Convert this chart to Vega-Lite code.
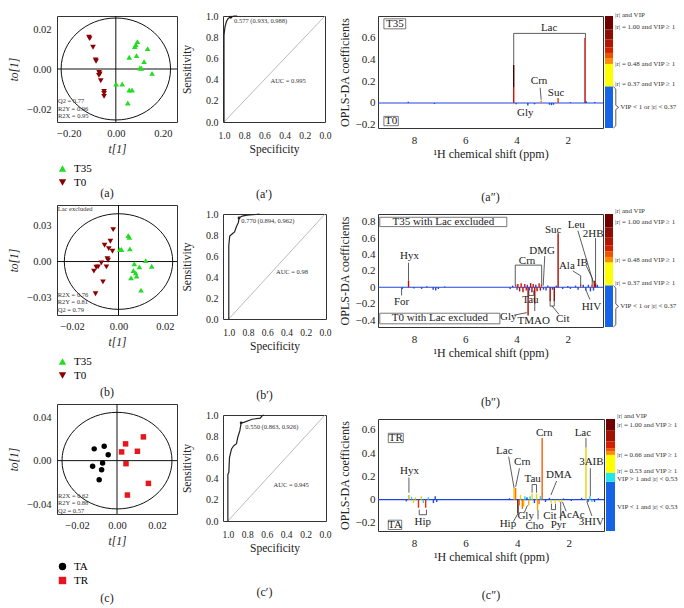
{
"$schema": "https://vega.github.io/schema/vega-lite/v6.json",
"padding": {"left": 7, "top": 10, "right": 0, "bottom": 0},
"config": {
  "font": "Liberation Serif",
  "view": {"stroke": "#333", "strokeWidth": 1},
  "axis": {"grid": false, "domain": false, "ticks": false, "labelOverlap": false, "labelFlush": false, "tickCount": 12, "labelFontSize": 10.5, "titleFontSize": 11.5, "titleFontWeight": "normal", "labelColor": "#222", "titleColor": "#222", "labelFont": "Liberation Serif", "titleFont": "Liberation Serif"},
  "title": {"fontSize": 12, "fontWeight": "normal", "font": "Liberation Serif", "color": "#222"},
  "legend": {"labelFontSize": 11, "labelFont": "Liberation Serif", "symbolSize": 55, "rowPadding": 2, "offset": 8, "padding": 0, "labelOffset": 6, "symbolStrokeWidth": 0},
  "text": {"font": "Liberation Serif"}
},
"spacing": 2,
"resolve": {"scale": {"color": "independent", "shape": "independent"}, "legend": {"color": "independent", "shape": "independent"}},
"hconcat": [
{
  "spacing": 4,
  "resolve": {"scale": {"color": "independent", "shape": "independent"}, "legend": {"color": "independent", "shape": "independent"}},
  "vconcat": [
  {
    "width": 120, "height": 106,
    "title": {"text": "(a)", "orient": "bottom", "anchor": "middle", "frame": "group", "dx": -10, "offset": 0},
    "layer": [
      {"data": {"values": [{}]}, "mark": {"type": "rule", "color": "#111", "strokeWidth": 1}, "encoding": {"x": {"datum": 0, "type": "quantitative"}}},
      {"data": {"values": [{}]}, "mark": {"type": "rule", "color": "#111", "strokeWidth": 1}, "encoding": {"y": {"datum": 0, "type": "quantitative"}}},
      {"data": {"values": [{}]}, "mark": {"type": "point", "shape": "M-1,0C-1,-0.5148,-0.5523,-0.932,0,-0.932C0.5523,-0.932,1,-0.5148,1,0C1,0.5148,0.5523,0.932,0,0.932C-0.5523,0.932,-1,0.5148,-1,0Z", "size": 11968, "filled": false, "color": "#111", "strokeWidth": 1, "opacity": 1}, "encoding": {"x": {"datum": 0, "type": "quantitative"}, "y": {"datum": 0, "type": "quantitative"}}},
      {"data": {"values": [
        {"t1": 0.092, "to1": 0.0137, "g": "T35"}, {"t1": 0.085, "to1": 0.0122, "g": "T35"}, {"t1": 0.081, "to1": 0.0112, "g": "T35"}, {"t1": 0.135, "to1": 0.0102, "g": "T35"}, {"t1": 0.088, "to1": 0.0067, "g": "T35"}, {"t1": 0.057, "to1": 0.0059, "g": "T35"}, {"t1": 0.120, "to1": 0.0037, "g": "T35"}, {"t1": 0.102, "to1": 0.0005, "g": "T35"}, {"t1": 0.109, "to1": 0.0004, "g": "T35"}, {"t1": 0.154, "to1": -0.0022, "g": "T35"}, {"t1": 0.001, "to1": -0.0075, "g": "T35"}, {"t1": 0.027, "to1": -0.0075, "g": "T35"}, {"t1": 0.057, "to1": -0.0105, "g": "T35"}, {"t1": 0.069, "to1": -0.0105, "g": "T35"}, {"t1": 0.051, "to1": -0.017, "g": "T35"},
        {"t1": -0.114, "to1": 0.0159, "g": "T0"}, {"t1": -0.111, "to1": 0.0152, "g": "T0"}, {"t1": -0.097, "to1": 0.0109, "g": "T0"}, {"t1": -0.086, "to1": 0.0045, "g": "T0"}, {"t1": -0.084, "to1": 0.0039, "g": "T0"}, {"t1": -0.071, "to1": -0.0017, "g": "T0"}, {"t1": -0.068, "to1": -0.0025, "g": "T0"}, {"t1": -0.072, "to1": -0.0032, "g": "T0"}, {"t1": -0.064, "to1": -0.0059, "g": "T0"}, {"t1": -0.05, "to1": -0.0112, "g": "T0"}, {"t1": -0.05, "to1": -0.0122, "g": "T0"}, {"t1": -0.05, "to1": -0.0137, "g": "T0"}
      ]},
       "mark": {"type": "point", "filled": true, "size": 32, "opacity": 1},
       "encoding": {
         "x": {"field": "t1", "type": "quantitative", "scale": {"domain": [-0.25, 0.26], "nice": false, "zero": false}, "axis": {"values": [-0.2, 0, 0.2], "tickCount": 12, "format": ".2f", "title": "t[1]", "labelOverlap": false, "labelFlush": false, "labelPadding": 6, "titlePadding": 5, "titleFontStyle": "italic"}},
         "y": {"field": "to1", "type": "quantitative", "scale": {"domain": [-0.0265, 0.0265], "nice": false, "zero": false}, "axis": {"values": [-0.02, 0, 0.02], "tickCount": 12, "format": ".2f", "title": "to[1]", "labelOverlap": false, "labelPadding": 6, "minExtent": 28, "maxExtent": 28, "titlePadding": 10, "titleFontStyle": "italic"}},
         "color": {"field": "g", "type": "nominal", "scale": {"domain": ["T35", "T0"], "range": ["#22dd22", "#8b0000"]}, "legend": {"orient": "bottom", "direction": "vertical", "title": null}},
         "shape": {"field": "g", "type": "nominal", "scale": {"domain": ["T35", "T0"], "range": ["triangle-up", "triangle-down"]}, "legend": {"orient": "bottom", "direction": "vertical", "title": null}}
       }},
      {"data": {"values": [{"x": -0.246, "y": -0.0145}]}, "mark": {"type": "text", "align": "left", "baseline": "top", "fontSize": 6.5, "lineHeight": 7.5, "text": ["Q2 = 0.77", "R2Y = 0.96", "R2X = 0.95"], "color": "#333"}, "encoding": {"x": {"field": "x", "type": "quantitative"}, "y": {"field": "y", "type": "quantitative"}}}
    ]
  },
  {
    "width": 120, "height": 110,
    "title": {"text": "(b)", "orient": "bottom", "anchor": "middle", "frame": "group", "dx": -10, "offset": 6},
    "layer": [
      {"data": {"values": [{}]}, "mark": {"type": "rule", "color": "#111", "strokeWidth": 1}, "encoding": {"x": {"datum": 0, "type": "quantitative"}}},
      {"data": {"values": [{}]}, "mark": {"type": "rule", "color": "#111", "strokeWidth": 1}, "encoding": {"y": {"datum": 0, "type": "quantitative"}}},
      {"data": {"values": [{}]}, "mark": {"type": "point", "shape": "M-1,0C-1,-0.4871,-0.5523,-0.882,0,-0.882C0.5523,-0.882,1,-0.4871,1,0C1,0.4871,0.5523,0.882,0,0.882C-0.5523,0.882,-1,0.4871,-1,0Z", "size": 11751, "filled": false, "color": "#111", "strokeWidth": 1, "opacity": 1}, "encoding": {"x": {"datum": 0, "type": "quantitative"}, "y": {"datum": 0, "type": "quantitative"}}},
      {"data": {"values": [
        {"t1": 0.0042, "to1": 0.0218, "g": "T35"}, {"t1": 0.0047, "to1": 0.0204, "g": "T35"}, {"t1": 0.0006, "to1": 0.0101, "g": "T35"}, {"t1": 0.0013, "to1": 0.0101, "g": "T35"}, {"t1": 0.0049, "to1": 0.0107, "g": "T35"}, {"t1": 0.0117, "to1": 0.0008, "g": "T35"}, {"t1": 0.0068, "to1": -0.0019, "g": "T35"}, {"t1": 0.0143, "to1": -0.0039, "g": "T35"}, {"t1": 0.009, "to1": -0.0045, "g": "T35"}, {"t1": 0.0064, "to1": -0.0076, "g": "T35"}, {"t1": 0.0074, "to1": -0.0095, "g": "T35"}, {"t1": 0.0078, "to1": -0.0123, "g": "T35"}, {"t1": 0.0054, "to1": -0.0137, "g": "T35"}, {"t1": 0.0097, "to1": -0.0241, "g": "T35"},
        {"t1": -0.0023, "to1": 0.0269, "g": "T0"}, {"t1": -0.0035, "to1": 0.0171, "g": "T0"}, {"t1": -0.006, "to1": 0.0137, "g": "T0"}, {"t1": -0.0042, "to1": 0.0109, "g": "T0"}, {"t1": -0.0026, "to1": 0.0087, "g": "T0"}, {"t1": -0.0048, "to1": 0.0023, "g": "T0"}, {"t1": -0.0045, "to1": 0.0011, "g": "T0"}, {"t1": -0.0074, "to1": -0.0011, "g": "T0"}, {"t1": -0.0088, "to1": -0.0045, "g": "T0"}, {"t1": -0.0096, "to1": -0.0048, "g": "T0"}, {"t1": -0.0052, "to1": -0.0045, "g": "T0"}, {"t1": -0.0106, "to1": -0.0081, "g": "T0"}, {"t1": -0.0067, "to1": -0.0171, "g": "T0"}, {"t1": -0.0099, "to1": -0.0271, "g": "T0"}
      ]},
       "mark": {"type": "point", "filled": true, "size": 32, "opacity": 1},
       "encoding": {
         "x": {"field": "t1", "type": "quantitative", "scale": {"domain": [-0.0265, 0.0252], "nice": false, "zero": false}, "axis": {"values": [-0.02, 0, 0.02], "tickCount": 12, "format": ".2f", "title": "t[1]", "labelOverlap": false, "labelFlush": false, "labelPadding": 6, "titlePadding": 5, "titleFontStyle": "italic"}},
         "y": {"field": "to1", "type": "quantitative", "scale": {"domain": [-0.045, 0.0476], "nice": false, "zero": false}, "axis": {"values": [-0.03, 0, 0.03], "tickCount": 12, "format": ".2f", "title": "to[1]", "labelOverlap": false, "labelPadding": 6, "minExtent": 28, "maxExtent": 28, "titlePadding": 10, "titleFontStyle": "italic"}},
         "color": {"field": "g", "type": "nominal", "scale": {"domain": ["T35", "T0"], "range": ["#22dd22", "#8b0000"]}, "legend": {"orient": "bottom", "direction": "vertical", "title": null}},
         "shape": {"field": "g", "type": "nominal", "scale": {"domain": ["T35", "T0"], "range": ["triangle-up", "triangle-down"]}, "legend": {"orient": "bottom", "direction": "vertical", "title": null}}
       }},
      {"data": {"values": [{"x": -0.0262, "y": 0.0468}]}, "mark": {"type": "text", "align": "left", "baseline": "top", "fontSize": 6.5, "text": "Lac excluded", "color": "#333"}, "encoding": {"x": {"field": "x", "type": "quantitative"}, "y": {"field": "y", "type": "quantitative"}}},
      {"data": {"values": [{"x": -0.0262, "y": -0.0255}]}, "mark": {"type": "text", "align": "left", "baseline": "top", "fontSize": 6.5, "lineHeight": 7.5, "text": ["R2X = 0.76", "R2Y = 0.81", "Q2 = 0.79"], "color": "#333"}, "encoding": {"x": {"field": "x", "type": "quantitative"}, "y": {"field": "y", "type": "quantitative"}}}
    ]
  },
  {
    "width": 120, "height": 110,
    "title": {"text": "(c)", "orient": "bottom", "anchor": "middle", "frame": "group", "dx": -10, "offset": 7},
    "layer": [
      {"data": {"values": [{}]}, "mark": {"type": "rule", "color": "#111", "strokeWidth": 1}, "encoding": {"x": {"datum": 0, "type": "quantitative"}}},
      {"data": {"values": [{}]}, "mark": {"type": "rule", "color": "#111", "strokeWidth": 1}, "encoding": {"y": {"datum": 0, "type": "quantitative"}}},
      {"data": {"values": [{}]}, "mark": {"type": "point", "shape": "M-1,0C-1,-0.4849,-0.5523,-0.878,0,-0.878C0.5523,-0.878,1,-0.4849,1,0C1,0.4849,0.5523,0.878,0,0.878C-0.5523,0.878,-1,0.4849,-1,0Z", "size": 12100, "filled": false, "color": "#111", "strokeWidth": 1, "opacity": 1}, "encoding": {"x": {"datum": 0, "type": "quantitative"}, "y": {"datum": 0, "type": "quantitative"}}},
      {"data": {"values": [
        {"t1": -0.0114, "to1": 0.0108, "g": "TA"}, {"t1": -0.0064, "to1": 0.0132, "g": "TA"}, {"t1": -0.0044, "to1": 0.0055, "g": "TA"}, {"t1": -0.0072, "to1": -0.0021, "g": "TA"}, {"t1": -0.0122, "to1": -0.0052, "g": "TA"}, {"t1": -0.0077, "to1": -0.0083, "g": "TA"}, {"t1": -0.0089, "to1": -0.0175, "g": "TA"},
        {"t1": 0.0132, "to1": 0.0218, "g": "TR"}, {"t1": 0.0043, "to1": 0.0154, "g": "TR"}, {"t1": 0.0023, "to1": 0.008, "g": "TR"}, {"t1": 0.0102, "to1": 0.0086, "g": "TR"}, {"t1": 0.0045, "to1": -0.0028, "g": "TR"}, {"t1": 0.0157, "to1": -0.0209, "g": "TR"}, {"t1": 0.0052, "to1": -0.0316, "g": "TR"}
      ]},
       "mark": {"type": "point", "filled": true, "size": 30, "opacity": 1},
       "encoding": {
         "x": {"field": "t1", "type": "quantitative", "scale": {"domain": [-0.03, 0.03], "nice": false, "zero": false}, "axis": {"values": [-0.02, 0, 0.02], "tickCount": 12, "format": ".2f", "title": "t[1]", "labelOverlap": false, "labelFlush": false, "labelPadding": 6, "titlePadding": 5, "titleFontStyle": "italic"}},
         "y": {"field": "to1", "type": "quantitative", "scale": {"domain": [-0.049, 0.052], "nice": false, "zero": false}, "axis": {"values": [-0.04, 0, 0.04], "tickCount": 12, "format": ".2f", "title": "to[1]", "labelOverlap": false, "labelPadding": 6, "minExtent": 28, "maxExtent": 28, "titlePadding": 10, "titleFontStyle": "italic"}},
         "color": {"field": "g", "type": "nominal", "scale": {"domain": ["TA", "TR"], "range": ["#000000", "#e8141e"]}, "legend": {"orient": "bottom", "direction": "vertical", "title": null, "offset": 14}},
         "shape": {"field": "g", "type": "nominal", "scale": {"domain": ["TA", "TR"], "range": ["circle", "square"]}, "legend": {"orient": "bottom", "direction": "vertical", "title": null, "offset": 14}}
       }},
      {"data": {"values": [{"x": -0.0295, "y": -0.0294}]}, "mark": {"type": "text", "align": "left", "baseline": "top", "fontSize": 6.5, "lineHeight": 7.5, "text": ["R2X = 0.62", "R2Y = 0.88", "Q2 = 0.57"], "color": "#333"}, "encoding": {"x": {"field": "x", "type": "quantitative"}, "y": {"field": "y", "type": "quantitative"}}}
    ]
  }
  ]
},
{
  "spacing": 6,
  "resolve": {"scale": {"color": "independent", "shape": "independent"}, "legend": {"color": "independent", "shape": "independent"}},
  "hconcat": [
  {
    "spacing": 7,
    "resolve": {"scale": {"color": "independent", "shape": "independent"}},
    "vconcat": [
    {
      "width": 102, "height": 106,
      "title": {"text": "(a′)", "orient": "bottom", "anchor": "middle", "frame": "group", "dx": -10, "offset": 34},
      "layer": [
        {"data": {"values": [{"sp": 1, "se": 0}, {"sp": 0, "se": 1}]}, "mark": {"type": "line", "color": "#aaa", "strokeWidth": 0.8}, "encoding": {"x": {"field": "sp", "type": "quantitative"}, "y": {"field": "se", "type": "quantitative"}}},
        {"data": {"values": [
          {"i": 0, "sp": 1, "se": 0}, {"i": 1, "sp": 1, "se": 0.82}, {"i": 2, "sp": 0.99, "se": 0.9}, {"i": 3, "sp": 0.975, "se": 0.95}, {"i": 4, "sp": 0.96, "se": 0.975}, {"i": 5, "sp": 0.945, "se": 0.985}, {"i": 6, "sp": 0.933, "se": 0.988}, {"i": 7, "sp": 0.92, "se": 0.995}, {"i": 8, "sp": 0.9, "se": 1}, {"i": 9, "sp": 0.87, "se": 1}
        ]},
         "mark": {"type": "line", "color": "#222", "strokeWidth": 1.2},
         "encoding": {
           "x": {"field": "sp", "type": "quantitative", "scale": {"domain": [0, 1.01], "reverse": true, "nice": false, "zero": false}, "axis": {"values": [0, 0.2, 0.4, 0.6, 0.8, 1], "tickCount": 12, "format": ".1f", "title": "Specificity", "labelOverlap": false, "labelFlush": false, "labelFontSize": 9.5, "labelPadding": 8, "titlePadding": 4}},
           "y": {"field": "se", "type": "quantitative", "scale": {"domain": [0, 1], "nice": false}, "axis": {"values": [0, 0.2, 0.4, 0.6, 0.8, 1], "tickCount": 12, "format": ".1f", "title": "Sensitivity", "labelOverlap": false, "labelFlush": false, "labelFontSize": 10, "labelPadding": 5, "minExtent": 20, "maxExtent": 20, "titlePadding": 11}},
           "order": {"field": "i", "type": "quantitative"}
         }},
        {"data": {"values": [{"sp": 0.933, "se": 0.988}]}, "mark": {"type": "point", "filled": true, "size": 8, "color": "#222", "opacity": 1}, "encoding": {"x": {"field": "sp", "type": "quantitative"}, "y": {"field": "se", "type": "quantitative"}}},
        {"data": {"values": [{"sp": 0.9, "se": 0.955, "t": "0.577 (0.933, 0.988)"}, {"sp": 0.54, "se": 0.39, "t": "AUC = 0.995"}]}, "mark": {"type": "text", "align": "left", "fontSize": 6.5, "color": "#333"}, "encoding": {"x": {"field": "sp", "type": "quantitative"}, "y": {"field": "se", "type": "quantitative"}, "text": {"field": "t"}}}
      ]
    },
    {
      "width": 103, "height": 105,
      "title": {"text": "(b′)", "orient": "bottom", "anchor": "middle", "frame": "group", "dx": -10, "offset": 38},
      "layer": [
        {"data": {"values": [{"sp": 1, "se": 0}, {"sp": 0, "se": 1}]}, "mark": {"type": "line", "color": "#aaa", "strokeWidth": 0.8}, "encoding": {"x": {"field": "sp", "type": "quantitative"}, "y": {"field": "se", "type": "quantitative"}}},
        {"data": {"values": [
          {"i": 0, "sp": 1, "se": 0}, {"i": 1, "sp": 1, "se": 0.7}, {"i": 2, "sp": 0.99, "se": 0.79}, {"i": 3, "sp": 0.966, "se": 0.81}, {"i": 4, "sp": 0.94, "se": 0.83}, {"i": 5, "sp": 0.92, "se": 0.88}, {"i": 6, "sp": 0.9, "se": 0.92}, {"i": 7, "sp": 0.894, "se": 0.962}, {"i": 8, "sp": 0.86, "se": 0.98}, {"i": 9, "sp": 0.81, "se": 0.99}, {"i": 10, "sp": 0.72, "se": 0.995}, {"i": 11, "sp": 0.68, "se": 1}
        ]},
         "mark": {"type": "line", "color": "#222", "strokeWidth": 1.2},
         "encoding": {
           "x": {"field": "sp", "type": "quantitative", "scale": {"domain": [-0.01, 1.06], "reverse": true, "nice": false, "zero": false}, "axis": {"values": [0, 0.2, 0.4, 0.6, 0.8, 1], "tickCount": 12, "format": ".1f", "title": "Specificity", "labelOverlap": false, "labelFlush": false, "labelFontSize": 9.5, "labelPadding": 8, "titlePadding": 4}},
           "y": {"field": "se", "type": "quantitative", "scale": {"domain": [0, 1], "nice": false}, "axis": {"values": [0, 0.2, 0.4, 0.6, 0.8, 1], "tickCount": 12, "format": ".1f", "title": "Sensitivity", "labelOverlap": false, "labelFlush": false, "labelFontSize": 10, "labelPadding": 5, "minExtent": 20, "maxExtent": 20, "titlePadding": 11}},
           "order": {"field": "i", "type": "quantitative"}
         }},
        {"data": {"values": [{"sp": 0.894, "se": 0.962}]}, "mark": {"type": "point", "filled": true, "size": 8, "color": "#222", "opacity": 1}, "encoding": {"x": {"field": "sp", "type": "quantitative"}, "y": {"field": "se", "type": "quantitative"}}},
        {"data": {"values": [{"sp": 0.87, "se": 0.93, "t": "0.770 (0.894, 0.962)"}, {"sp": 0.51, "se": 0.45, "t": "AUC = 0.98"}]}, "mark": {"type": "text", "align": "left", "fontSize": 6.5, "color": "#333"}, "encoding": {"x": {"field": "sp", "type": "quantitative"}, "y": {"field": "se", "type": "quantitative"}, "text": {"field": "t"}}}
      ]
    },
    {
      "width": 103, "height": 106,
      "title": {"text": "(c′)", "orient": "bottom", "anchor": "middle", "frame": "group", "dx": -10, "offset": 33},
      "layer": [
        {"data": {"values": [{"sp": 1, "se": 0}, {"sp": 0, "se": 1}]}, "mark": {"type": "line", "color": "#aaa", "strokeWidth": 0.8}, "encoding": {"x": {"field": "sp", "type": "quantitative"}, "y": {"field": "se", "type": "quantitative"}}},
        {"data": {"values": [
          {"i": 0, "sp": 1, "se": 0}, {"i": 1, "sp": 1, "se": 0.44}, {"i": 2, "sp": 0.99, "se": 0.46}, {"i": 3, "sp": 0.983, "se": 0.6}, {"i": 4, "sp": 0.962, "se": 0.68}, {"i": 5, "sp": 0.939, "se": 0.71}, {"i": 6, "sp": 0.911, "se": 0.73}, {"i": 7, "sp": 0.898, "se": 0.79}, {"i": 8, "sp": 0.877, "se": 0.85}, {"i": 9, "sp": 0.863, "se": 0.926}, {"i": 10, "sp": 0.836, "se": 0.93}, {"i": 11, "sp": 0.75, "se": 0.96}, {"i": 12, "sp": 0.666, "se": 0.97}, {"i": 13, "sp": 0.65, "se": 0.99}, {"i": 14, "sp": 0.63, "se": 1}
        ]},
         "mark": {"type": "line", "color": "#222", "strokeWidth": 1.2},
         "encoding": {
           "x": {"field": "sp", "type": "quantitative", "scale": {"domain": [-0.01, 1.05], "reverse": true, "nice": false, "zero": false}, "axis": {"values": [0, 0.2, 0.4, 0.6, 0.8, 1], "tickCount": 12, "format": ".1f", "title": "Specificity", "labelOverlap": false, "labelFlush": false, "labelFontSize": 9.5, "labelPadding": 8, "titlePadding": 4}},
           "y": {"field": "se", "type": "quantitative", "scale": {"domain": [0, 1], "nice": false}, "axis": {"values": [0, 0.2, 0.4, 0.6, 0.8, 1], "tickCount": 12, "format": ".1f", "title": "Sensitivity", "labelOverlap": false, "labelFlush": false, "labelFontSize": 10, "labelPadding": 5, "minExtent": 20, "maxExtent": 20, "titlePadding": 11}},
           "order": {"field": "i", "type": "quantitative"}
         }},
        {"data": {"values": [{"sp": 0.863, "se": 0.926}]}, "mark": {"type": "point", "filled": true, "size": 8, "color": "#222", "opacity": 1}, "encoding": {"x": {"field": "sp", "type": "quantitative"}, "y": {"field": "se", "type": "quantitative"}}},
        {"data": {"values": [{"sp": 0.82, "se": 0.89, "t": "0.550 (0.863, 0.926)"}, {"sp": 0.53, "se": 0.34, "t": "AUC = 0.945"}]}, "mark": {"type": "text", "align": "left", "fontSize": 6.5, "color": "#333"}, "encoding": {"x": {"field": "sp", "type": "quantitative"}, "y": {"field": "se", "type": "quantitative"}, "text": {"field": "t"}}}
      ]
    }
    ]
  },
  {
    "spacing": 2,
    "resolve": {"scale": {"color": "independent"}},
    "vconcat": [
    {
      "spacing": 0,
      "resolve": {"scale": {"color": "independent"}},
      "hconcat": [
      {
        "width": 225, "height": 112,
        "title": {"text": "(a″)", "orient": "bottom", "anchor": "middle", "frame": "group", "offset": 33},
        "layer": [
          {"data": {"values": [{}]}, "mark": {"type": "rule", "color": "#2244e0", "strokeWidth": 1.2}, "encoding": {"y": {"datum": 0, "type": "quantitative"}}},
          {"data": {"values": [
            {"p": 4.11, "lo": 0, "hi": 0.14, "r": 0.72}, {"p": 4.11, "lo": 0.14, "hi": 0.35, "r": 1}, {"p": 1.33, "lo": 0, "hi": 0.6, "r": 0.78}, {"p": 2.38, "lo": 0, "hi": 0.045, "r": 0.62}, {"p": 3.04, "lo": 0, "hi": 0.02, "r": 0.5},
            {"p": 8.22, "lo": 0, "hi": 0.012, "r": 0.1}, {"p": 7.2, "lo": 0, "hi": -0.008, "r": 0.1}, {"p": 4.02, "lo": 0, "hi": -0.012, "r": 0.1}, {"p": 3.56, "lo": 0, "hi": -0.022, "r": 0.2}, {"p": 3.3, "lo": 0, "hi": -0.012, "r": 0.1}, {"p": 2.72, "lo": 0, "hi": -0.016, "r": 0.2}, {"p": 2.64, "lo": 0, "hi": -0.02, "r": 0.2}, {"p": 2.56, "lo": 0, "hi": -0.016, "r": 0.2}, {"p": 1.9, "lo": 0, "hi": 0.008, "r": 0.1}, {"p": 1.28, "lo": 0, "hi": 0.015, "r": 0.1}, {"p": 0.95, "lo": 0, "hi": 0.01, "r": 0.1}
          ]},
           "mark": {"type": "rule", "strokeWidth": 1.4},
           "encoding": {
             "x": {"field": "p", "type": "quantitative", "scale": {"domain": [0.63, 9.4], "reverse": true, "nice": false, "zero": false}, "axis": {"values": [8, 6, 4, 2], "tickCount": 12, "title": "¹H chemical shift (ppm)", "labelOverlap": false, "labelFontSize": 11, "titleFontSize": 12, "labelPadding": 6, "titlePadding": 3}},
             "y": {"field": "hi", "type": "quantitative", "scale": {"domain": [-0.23, 0.8], "nice": false, "zero": false}, "axis": {"values": [-0.2, 0, 0.2, 0.4, 0.6], "tickCount": 12, "format": ".1~f", "title": "OPLS-DA coefficients", "labelOverlap": false, "labelFontSize": 11, "titleFontSize": 12, "labelPadding": 3, "minExtent": 22, "maxExtent": 22, "titlePadding": 4.5}},
             "y2": {"field": "lo"},
             "color": {"field": "r", "type": "quantitative", "scale": {"domain": [0, 0.36, 0.37, 0.48, 0.7, 1], "range": ["#2244e0", "#2244e0", "#f5f500", "#ff8000", "#e01000", "#3a0000"], "interpolate": "rgb"}, "legend": null}
           }},
          {"data": {"values": [{"p": 4.11, "v": 0.35, "p2": 4.11, "v2": 0.64}, {"p": 4.11, "v": 0.64, "p2": 1.31, "v2": 0.64}, {"p": 1.31, "v": 0.64, "p2": 1.31, "v2": 0.6}, {"p": 3.08, "v": 0.14, "p2": 3.04, "v2": 0.03}]},
           "mark": {"type": "rule", "color": "#333", "strokeWidth": 0.8},
           "encoding": {"x": {"field": "p", "type": "quantitative"}, "y": {"field": "v", "type": "quantitative"}, "x2": {"field": "p2"}, "y2": {"field": "v2"}}},
          {"data": {"values": [{"p": 9.17, "p2": 8.32, "v": 0.774, "v2": 0.682}, {"p": 9.17, "p2": 8.61, "v": -0.123, "v2": -0.209}]},
           "mark": {"type": "rect", "fill": "white", "stroke": "#555", "strokeWidth": 0.8},
           "encoding": {"x": {"field": "p", "type": "quantitative"}, "x2": {"field": "p2"}, "y": {"field": "v", "type": "quantitative"}, "y2": {"field": "v2"}}},
          {"data": {"values": [{"p": 8.745, "v": 0.728, "t": "T35"}, {"p": 8.89, "v": -0.166, "t": "T0"}, {"p": 2.73, "v": 0.69, "t": "Lac"}, {"p": 3.12, "v": 0.2, "t": "Crn"}, {"p": 2.46, "v": 0.09, "t": "Suc"}, {"p": 3.66, "v": -0.09, "t": "Gly"}]},
           "mark": {"type": "text", "fontSize": 11, "color": "#222"},
           "encoding": {"x": {"field": "p", "type": "quantitative"}, "y": {"field": "v", "type": "quantitative"}, "text": {"field": "t"}}}
        ]
      },
      {
        "width": 8, "height": 112,
        "view": {"stroke": null},
        "layer": [
          {"data": {"values": [{"y0": 0, "y1": 0.368, "c": 0}, {"y0": 0.368, "y1": 0.376, "c": 0.5}, {"y0": 0.376, "y1": 0.572, "c": 1}, {"y0": 0.572, "y1": 0.62, "c": 2}, {"y0": 0.62, "y1": 0.67, "c": 3}, {"y0": 0.67, "y1": 0.72, "c": 4}, {"y0": 0.72, "y1": 0.79, "c": 5}, {"y0": 0.79, "y1": 0.88, "c": 6}, {"y0": 0.88, "y1": 1, "c": 7}]},
           "mark": {"type": "rect"},
           "encoding": {"x": {"datum": 0, "type": "quantitative", "scale": {"domain": [0, 1], "nice": false}, "axis": null}, "x2": {"datum": 1}, "y": {"field": "y0", "type": "quantitative", "scale": {"domain": [0, 1], "nice": false}, "axis": null}, "y2": {"field": "y1"},
             "color": {"field": "c", "type": "quantitative", "scale": {"domain": [0, 1, 2, 4, 7], "range": ["#1763e8", "#ffff00", "#ff8c00", "#d42000", "#6e0000"], "interpolate": "rgb"}, "legend": null}}},
          {"data": {"values": [{"i": 0, "bx": 1.05, "by": 0}, {"i": 1, "bx": 1.35, "by": 0.02}, {"i": 2, "bx": 1.35, "by": 0.165}, {"i": 3, "bx": 1.7, "by": 0.184}, {"i": 4, "bx": 1.35, "by": 0.203}, {"i": 5, "bx": 1.35, "by": 0.348}, {"i": 6, "bx": 1.05, "by": 0.368}]},
           "mark": {"type": "line", "color": "#333", "strokeWidth": 0.8},
           "encoding": {"x": {"field": "bx", "type": "quantitative"}, "y": {"field": "by", "type": "quantitative"}, "order": {"field": "i", "type": "quantitative"}}},
          {"data": {"values": [{"x": 1, "y": 1.01, "t": "|r| and VIP"}, {"x": 1, "y": 0.9, "t": "|r| = 1.00 and VIP ≥ 1"}, {"x": 1, "y": 0.57, "t": "|r| = 0.48 and VIP ≥ 1"}, {"x": 1, "y": 0.39, "t": "|r| = 0.37 and VIP ≥ 1"}, {"x": 1.65, "y": 0.184, "t": "VIP < 1 or |r| < 0.37"}]},
           "mark": {"type": "text", "align": "left", "dx": 2, "fontSize": 7, "color": "#333"},
           "encoding": {"x": {"field": "x", "type": "quantitative"}, "y": {"field": "y", "type": "quantitative"}, "text": {"field": "t"}}}
        ]
      }
      ]
    },
    {
      "spacing": 0,
      "resolve": {"scale": {"color": "independent"}},
      "hconcat": [
      {
        "width": 225, "height": 113,
        "title": {"text": "(b″)", "orient": "bottom", "anchor": "middle", "frame": "group", "offset": 39},
        "layer": [
          {"data": {"values": [{}]}, "mark": {"type": "rule", "color": "#2244e0", "strokeWidth": 1.2}, "encoding": {"y": {"datum": 0, "type": "quantitative"}}},
          {"data": {"values": [
            {"p": 8.21, "lo": 0, "hi": 0.08, "r": 0.75}, {"p": 2.38, "lo": 0, "hi": 0.66, "r": 0.8}, {"p": 0.92, "lo": 0, "hi": 0.05, "r": 0.8}, {"p": 0.97, "lo": 0, "hi": 0.08, "r": 0.78}, {"p": 1.5, "lo": 0, "hi": 0.03, "r": 0.6}, {"p": 1.06, "lo": 0, "hi": 0.03, "r": 0.6},
            {"p": 4.03, "lo": 0, "hi": 0.03, "r": 0.55}, {"p": 3.95, "lo": 0, "hi": 0.04, "r": 0.7}, {"p": 3.88, "lo": 0, "hi": -0.05, "r": 0.75}, {"p": 3.82, "lo": 0, "hi": 0.05, "r": 0.7}, {"p": 3.75, "lo": 0, "hi": -0.06, "r": 0.8}, {"p": 3.68, "lo": 0, "hi": 0.04, "r": 0.7}, {"p": 3.62, "lo": 0, "hi": -0.04, "r": 0.7}, {"p": 3.55, "lo": 0, "hi": -0.345, "r": 0.8}, {"p": 3.45, "lo": 0, "hi": 0.05, "r": 0.75}, {"p": 3.4, "lo": 0, "hi": -0.06, "r": 0.8}, {"p": 3.35, "lo": 0, "hi": 0.04, "r": 0.7}, {"p": 3.29, "lo": 0, "hi": -0.2, "r": 0.8}, {"p": 3.2, "lo": 0, "hi": -0.05, "r": 0.8}, {"p": 3.12, "lo": 0, "hi": 0.05, "r": 0.7}, {"p": 3.07, "lo": 0, "hi": -0.04, "r": 0.8}, {"p": 3.03, "lo": 0, "hi": 0.03, "r": 0.6}, {"p": 2.69, "lo": 0, "hi": -0.17, "r": 0.85}, {"p": 2.53, "lo": 0, "hi": -0.17, "r": 0.85},
            {"p": 8.45, "lo": 0, "hi": -0.02, "r": 0.1}, {"p": 8.0, "lo": 0, "hi": -0.015, "r": 0.1}, {"p": 7.7, "lo": 0, "hi": -0.02, "r": 0.1}, {"p": 7.5, "lo": 0, "hi": 0.012, "r": 0.1}, {"p": 7.25, "lo": 0, "hi": -0.03, "r": 0.1}, {"p": 7.15, "lo": 0, "hi": -0.04, "r": 0.1}, {"p": 7.05, "lo": 0, "hi": -0.02, "r": 0.1}, {"p": 6.8, "lo": 0, "hi": 0.01, "r": 0.1}, {"p": 4.25, "lo": 0, "hi": -0.02, "r": 0.1}, {"p": 4.15, "lo": 0, "hi": 0.02, "r": 0.1}, {"p": 3.98, "lo": 0, "hi": -0.03, "r": 0.1}, {"p": 3.58, "lo": 0, "hi": 0.03, "r": 0.1}, {"p": 3.5, "lo": 0, "hi": -0.04, "r": 0.1}, {"p": 3.25, "lo": 0, "hi": 0.03, "r": 0.1}, {"p": 2.95, "lo": 0, "hi": -0.03, "r": 0.1}, {"p": 2.85, "lo": 0, "hi": -0.04, "r": 0.1}, {"p": 2.78, "lo": 0, "hi": 0.02, "r": 0.1}, {"p": 2.6, "lo": 0, "hi": -0.03, "r": 0.1}, {"p": 2.45, "lo": 0, "hi": 0.02, "r": 0.1}, {"p": 2.2, "lo": 0, "hi": -0.02, "r": 0.1}, {"p": 2.0, "lo": 0, "hi": 0.015, "r": 0.1}, {"p": 1.9, "lo": 0, "hi": -0.02, "r": 0.1}, {"p": 1.7, "lo": 0, "hi": 0.02, "r": 0.1}, {"p": 1.6, "lo": 0, "hi": -0.03, "r": 0.1}, {"p": 1.4, "lo": 0, "hi": 0.03, "r": 0.1}, {"p": 1.3, "lo": 0, "hi": -0.04, "r": 0.1}, {"p": 1.2, "lo": 0, "hi": 0.03, "r": 0.1}, {"p": 1.12, "lo": 0, "hi": -0.05, "r": 0.1}, {"p": 1.0, "lo": 0, "hi": -0.04, "r": 0.1}, {"p": 0.85, "lo": 0, "hi": 0.03, "r": 0.1}
          ]},
           "mark": {"type": "rule", "strokeWidth": 1.4},
           "encoding": {
             "x": {"field": "p", "type": "quantitative", "scale": {"domain": [0.63, 9.4], "reverse": true, "nice": false, "zero": false}, "axis": {"values": [8, 6, 4, 2], "tickCount": 12, "title": "¹H chemical shift (ppm)", "labelOverlap": false, "labelFontSize": 11, "titleFontSize": 12, "labelPadding": 6, "titlePadding": 3}},
             "y": {"field": "hi", "type": "quantitative", "scale": {"domain": [-0.485, 0.894], "nice": false, "zero": false}, "axis": {"values": [-0.4, -0.2, 0, 0.2, 0.4, 0.6, 0.8], "tickCount": 12, "format": ".1~f", "title": "OPLS-DA coefficients", "labelOverlap": false, "labelFontSize": 11, "titleFontSize": 12, "labelPadding": 3, "minExtent": 22, "maxExtent": 22, "titlePadding": 4.5}},
             "y2": {"field": "lo"},
             "color": {"field": "r", "type": "quantitative", "scale": {"domain": [0, 0.36, 0.37, 0.48, 0.7, 1], "range": ["#2244e0", "#2244e0", "#f5f500", "#ff8000", "#e01000", "#3a0000"], "interpolate": "rgb"}, "legend": null}
           }},
          {"data": {"values": [
            {"p": 8.21, "v": 0.08, "p2": 8.21, "v2": 0.3}, {"p": 8.48, "v": -0.01, "p2": 8.48, "v2": -0.1},
            {"p": 4.05, "v": 0.02, "p2": 4.05, "v2": 0.27}, {"p": 4.05, "v": 0.27, "p2": 3.02, "v2": 0.27}, {"p": 3.02, "v": 0.27, "p2": 3.02, "v2": 0.02},
            {"p": 2.96, "v": 0.02, "p2": 2.9, "v2": 0.38}, {"p": 1.61, "v": 0.69, "p2": 1.01, "v2": 0.06}, {"p": 0.92, "v": 0.6, "p2": 0.92, "v2": 0.05},
            {"p": 1.28, "v": 0.26, "p2": 1.05, "v2": 0.11}, {"p": 1.05, "v": 0.11, "p2": 1.05, "v2": 0.02},
            {"p": 1.81, "v": 0.2, "p2": 1.5, "v2": 0.14}, {"p": 1.5, "v": 0.14, "p2": 1.5, "v2": 0.02},
            {"p": 1.14, "v": -0.15, "p2": 1.3, "v2": -0.03},
            {"p": 3.52, "v": -0.04, "p2": 3.52, "v2": -0.1}, {"p": 3.52, "v": -0.1, "p2": 3.33, "v2": -0.1}, {"p": 3.33, "v": -0.1, "p2": 3.33, "v2": -0.04},
            {"p": 4.09, "v": -0.34, "p2": 3.6, "v2": -0.31}, {"p": 3.29, "v": -0.2, "p2": 3.29, "v2": -0.29},
            {"p": 2.69, "v": -0.17, "p2": 2.69, "v2": -0.23}, {"p": 2.69, "v": -0.23, "p2": 2.53, "v2": -0.23}, {"p": 2.53, "v": -0.23, "p2": 2.53, "v2": -0.17}, {"p": 2.61, "v": -0.23, "p2": 2.35, "v2": -0.33}
          ]},
           "mark": {"type": "rule", "color": "#333", "strokeWidth": 0.8},
           "encoding": {"x": {"field": "p", "type": "quantitative"}, "y": {"field": "v", "type": "quantitative"}, "x2": {"field": "p2"}, "y2": {"field": "v2"}}},
          {"data": {"values": [{"p": 9.33, "p2": 4.38, "v": 0.854, "v2": 0.74}, {"p": 9.33, "p2": 4.65, "v": -0.317, "v2": -0.446}]},
           "mark": {"type": "rect", "fill": "white", "stroke": "#555", "strokeWidth": 0.8},
           "encoding": {"x": {"field": "p", "type": "quantitative"}, "x2": {"field": "p2"}, "y": {"field": "v", "type": "quantitative"}, "y2": {"field": "v2"}}},
          {"data": {"values": [{"p": 6.855, "v": 0.797, "t": "T35 with Lac excluded"}, {"p": 6.99, "v": -0.381, "t": "T0 with Lac excluded"}, {"p": 8.17, "v": 0.387, "t": "Hyx"}, {"p": 8.48, "v": -0.174, "t": "For"}, {"p": 3.59, "v": 0.32, "t": "Crn"}, {"p": 3.0, "v": 0.44, "t": "DMG"}, {"p": 2.57, "v": 0.7, "t": "Suc"}, {"p": 1.67, "v": 0.76, "t": "Leu"}, {"p": 1.01, "v": 0.65, "t": "2HB"}, {"p": 1.44, "v": 0.3, "t": "IB"}, {"p": 2.04, "v": 0.26, "t": "Ala"}, {"p": 1.08, "v": -0.24, "t": "HIV"}, {"p": 3.46, "v": -0.16, "t": "Tau"}, {"p": 4.32, "v": -0.36, "t": "Gly"}, {"p": 3.33, "v": -0.41, "t": "TMAO"}, {"p": 2.2, "v": -0.385, "t": "Cit"}]},
           "mark": {"type": "text", "fontSize": 11, "color": "#222"},
           "encoding": {"x": {"field": "p", "type": "quantitative"}, "y": {"field": "v", "type": "quantitative"}, "text": {"field": "t"}}}
        ]
      },
      {
        "width": 8, "height": 113,
        "view": {"stroke": null},
        "layer": [
          {"data": {"values": [{"y0": 0, "y1": 0.366, "c": 0}, {"y0": 0.366, "y1": 0.374, "c": 0.5}, {"y0": 0.374, "y1": 0.572, "c": 1}, {"y0": 0.572, "y1": 0.62, "c": 2}, {"y0": 0.62, "y1": 0.67, "c": 3}, {"y0": 0.67, "y1": 0.72, "c": 4}, {"y0": 0.72, "y1": 0.79, "c": 5}, {"y0": 0.79, "y1": 0.88, "c": 6}, {"y0": 0.88, "y1": 1, "c": 7}]},
           "mark": {"type": "rect"},
           "encoding": {"x": {"datum": 0, "type": "quantitative", "scale": {"domain": [0, 1], "nice": false}, "axis": null}, "x2": {"datum": 1}, "y": {"field": "y0", "type": "quantitative", "scale": {"domain": [0, 1], "nice": false}, "axis": null}, "y2": {"field": "y1"},
             "color": {"field": "c", "type": "quantitative", "scale": {"domain": [0, 1, 2, 4, 7], "range": ["#1763e8", "#ffff00", "#ff8c00", "#d42000", "#6e0000"], "interpolate": "rgb"}, "legend": null}}},
          {"data": {"values": [{"i": 0, "bx": 1.05, "by": 0}, {"i": 1, "bx": 1.35, "by": 0.02}, {"i": 2, "bx": 1.35, "by": 0.163}, {"i": 3, "bx": 1.7, "by": 0.183}, {"i": 4, "bx": 1.35, "by": 0.203}, {"i": 5, "bx": 1.35, "by": 0.346}, {"i": 6, "bx": 1.05, "by": 0.366}]},
           "mark": {"type": "line", "color": "#333", "strokeWidth": 0.8},
           "encoding": {"x": {"field": "bx", "type": "quantitative"}, "y": {"field": "by", "type": "quantitative"}, "order": {"field": "i", "type": "quantitative"}}},
          {"data": {"values": [{"x": 1, "y": 1.03, "t": "|r| and VIP"}, {"x": 1, "y": 0.93, "t": "|r| = 1.00 and VIP ≥ 1"}, {"x": 1, "y": 0.59, "t": "|r| = 0.48 and VIP ≥ 1"}, {"x": 1, "y": 0.39, "t": "|r| = 0.37 and VIP ≥ 1"}, {"x": 1.65, "y": 0.19, "t": "VIP < 1 or |r| < 0.37"}]},
           "mark": {"type": "text", "align": "left", "dx": 2, "fontSize": 7, "color": "#333"},
           "encoding": {"x": {"field": "x", "type": "quantitative"}, "y": {"field": "y", "type": "quantitative"}, "text": {"field": "t"}}}
        ]
      }
      ]
    },
    {
      "spacing": 0,
      "resolve": {"scale": {"color": "independent"}},
      "hconcat": [
      {
        "width": 226, "height": 112,
        "title": {"text": "(c″)", "orient": "bottom", "anchor": "middle", "frame": "group", "offset": 28},
        "layer": [
          {"data": {"values": [{}]}, "mark": {"type": "rule", "color": "#2244e0", "strokeWidth": 1.2}, "encoding": {"y": {"datum": 0, "type": "quantitative"}}},
          {"data": {"values": [
            {"p": 8.2, "lo": 0, "hi": 0.04, "r": 0.62}, {"p": 8.1, "lo": 0, "hi": 0.025, "r": 0.45}, {"p": 8.02, "lo": 0, "hi": -0.03, "r": 0.55}, {"p": 7.95, "lo": 0, "hi": 0.02, "r": 0.56}, {"p": 7.83, "lo": 0, "hi": -0.07, "r": 0.8}, {"p": 7.72, "lo": 0, "hi": 0.03, "r": 0.55}, {"p": 7.64, "lo": 0, "hi": -0.03, "r": 0.45}, {"p": 7.55, "lo": 0, "hi": -0.07, "r": 0.8}, {"p": 7.45, "lo": 0, "hi": 0.02, "r": 0.45}, {"p": 7.25, "lo": 0, "hi": -0.03, "r": 0.1}, {"p": 7.18, "lo": 0, "hi": 0.03, "r": 0.1}, {"p": 7.12, "lo": 0, "hi": -0.02, "r": 0.1},
            {"p": 4.12, "lo": 0, "hi": 0.1, "r": 0.58}, {"p": 4.06, "lo": 0, "hi": 0.1, "r": 0.68}, {"p": 3.97, "lo": 0, "hi": -0.12, "r": 1}, {"p": 3.92, "lo": 0, "hi": -0.05, "r": 0.7}, {"p": 3.87, "lo": 0, "hi": 0.04, "r": 0.55}, {"p": 3.8, "lo": 0, "hi": -0.08, "r": 0.68}, {"p": 3.75, "lo": 0, "hi": -0.06, "r": 0.6}, {"p": 3.7, "lo": 0, "hi": 0.03, "r": 0.45}, {"p": 3.55, "lo": 0, "hi": -0.05, "r": 0.6}, {"p": 3.5, "lo": 0, "hi": 0.03, "r": 0.45}, {"p": 3.42, "lo": 0, "hi": 0.05, "r": 0.55}, {"p": 3.33, "lo": 0, "hi": -0.03, "r": 0.1}, {"p": 3.25, "lo": 0, "hi": 0.05, "r": 0.55}, {"p": 3.21, "lo": 0, "hi": -0.09, "r": 0.62}, {"p": 3.15, "lo": 0, "hi": -0.04, "r": 0.7}, {"p": 3.1, "lo": 0, "hi": 0.03, "r": 0.45}, {"p": 3.03, "lo": 0, "hi": 0.53, "r": 0.72},
            {"p": 2.68, "lo": 0, "hi": -0.03, "r": 0.55}, {"p": 2.52, "lo": 0, "hi": -0.03, "r": 0.55}, {"p": 2.37, "lo": 0, "hi": -0.02, "r": 0.55}, {"p": 2.28, "lo": 0, "hi": -0.02, "r": 0.55}, {"p": 1.33, "lo": 0, "hi": 0.45, "r": 0.56}, {"p": 1.18, "lo": 0, "hi": 0.03, "r": 0.45}, {"p": 1.1, "lo": 0, "hi": -0.02, "r": 0.45},
            {"p": 8.3, "lo": 0, "hi": -0.015, "r": 0.1}, {"p": 6.0, "lo": 0, "hi": 0.006, "r": 0.1}, {"p": 4.3, "lo": 0, "hi": 0.012, "r": 0.1}, {"p": 3.62, "lo": 0, "hi": 0.02, "r": 0.1}, {"p": 2.9, "lo": 0, "hi": -0.02, "r": 0.1}, {"p": 2.75, "lo": 0, "hi": 0.015, "r": 0.1}, {"p": 2.2, "lo": 0, "hi": 0.01, "r": 0.1}, {"p": 1.9, "lo": 0, "hi": -0.012, "r": 0.1}, {"p": 1.5, "lo": 0, "hi": 0.015, "r": 0.1}, {"p": 1.25, "lo": 0, "hi": -0.02, "r": 0.1}, {"p": 1.0, "lo": 0, "hi": -0.02, "r": 0.1}, {"p": 0.85, "lo": 0, "hi": 0.012, "r": 0.1}
          ]},
           "mark": {"type": "rule", "strokeWidth": 1.4},
           "encoding": {
             "x": {"field": "p", "type": "quantitative", "scale": {"domain": [0.63, 9.4], "reverse": true, "nice": false, "zero": false}, "axis": {"values": [8, 6, 4, 2], "tickCount": 12, "title": "¹H chemical shift (ppm)", "labelOverlap": false, "labelFontSize": 11, "titleFontSize": 12, "labelPadding": 6, "titlePadding": 3}},
             "y": {"field": "hi", "type": "quantitative", "scale": {"domain": [-0.27, 0.694], "nice": false, "zero": false}, "axis": {"values": [-0.2, 0, 0.2, 0.4, 0.6], "tickCount": 12, "format": ".1~f", "title": "OPLS-DA coefficients", "labelOverlap": false, "labelFontSize": 11, "titleFontSize": 12, "labelPadding": 3, "minExtent": 22, "maxExtent": 22, "titlePadding": 4.5}},
             "y2": {"field": "lo"},
             "color": {"field": "r", "type": "quantitative", "scale": {"domain": [0, 0.4, 0.41, 0.52, 0.53, 0.66, 0.85, 1], "range": ["#2244e0", "#2244e0", "#22d8d8", "#22d8d8", "#e8e800", "#ff8000", "#e01000", "#3a0000"], "interpolate": "rgb"}, "legend": null}
           }},
          {"data": {"values": [
            {"p": 8.2, "v": 0.06, "p2": 8.2, "v2": 0.19},
            {"p": 7.8, "v": -0.086, "p2": 7.8, "v2": -0.13}, {"p": 7.8, "v": -0.13, "p2": 7.52, "v2": -0.13}, {"p": 7.52, "v": -0.13, "p2": 7.52, "v2": -0.086},
            {"p": 4.33, "v": 0.37, "p2": 4.12, "v2": 0.1}, {"p": 3.91, "v": 0.27, "p2": 4.06, "v2": 0.11},
            {"p": 3.42, "v": 0.06, "p2": 3.42, "v2": 0.13}, {"p": 3.42, "v": 0.13, "p2": 3.25, "v2": 0.13}, {"p": 3.25, "v": 0.13, "p2": 3.25, "v2": 0.06},
            {"p": 2.47, "v": 0.16, "p2": 2.69, "v2": 0.04}, {"p": 1.33, "v": 0.45, "p2": 1.33, "v2": 0.53}, {"p": 1.16, "v": 0.27, "p2": 1.16, "v2": 0.03},
            {"p": 4.15, "v": -0.19, "p2": 3.97, "v2": -0.12}, {"p": 3.72, "v": -0.11, "p2": 3.6, "v2": -0.05}, {"p": 3.19, "v": -0.17, "p2": 3.19, "v2": -0.09},
            {"p": 2.67, "v": -0.035, "p2": 2.67, "v2": -0.086}, {"p": 2.67, "v": -0.086, "p2": 2.51, "v2": -0.086}, {"p": 2.51, "v": -0.086, "p2": 2.51, "v2": -0.035},
            {"p": 2.31, "v": -0.02, "p2": 2.31, "v2": -0.18}, {"p": 2.24, "v": -0.02, "p2": 2.1, "v2": -0.1}, {"p": 1.1, "v": -0.14, "p2": 1.3, "v2": -0.015}
          ]},
           "mark": {"type": "rule", "color": "#333", "strokeWidth": 0.8},
           "encoding": {"x": {"field": "p", "type": "quantitative"}, "y": {"field": "v", "type": "quantitative"}, "x2": {"field": "p2"}, "y2": {"field": "v2"}}},
          {"data": {"values": [{"p": 9.0, "p2": 8.42, "v": 0.571, "v2": 0.491}, {"p": 9.0, "p2": 8.48, "v": -0.177, "v2": -0.257}]},
           "mark": {"type": "rect", "fill": "white", "stroke": "#555", "strokeWidth": 0.8},
           "encoding": {"x": {"field": "p", "type": "quantitative"}, "x2": {"field": "p2"}, "y": {"field": "v", "type": "quantitative"}, "y2": {"field": "v2"}}},
          {"data": {"values": [{"p": 8.71, "v": 0.531, "t": "TR"}, {"p": 8.74, "v": -0.217, "t": "TA"}, {"p": 8.18, "v": 0.243, "t": "Hyx"}, {"p": 7.66, "v": -0.19, "t": "Hip"}, {"p": 4.5, "v": 0.42, "t": "Lac"}, {"p": 3.8, "v": 0.32, "t": "Crn"}, {"p": 3.4, "v": 0.18, "t": "Tau"}, {"p": 2.95, "v": 0.57, "t": "Crn"}, {"p": 2.38, "v": 0.21, "t": "DMA"}, {"p": 1.45, "v": 0.57, "t": "Lac"}, {"p": 1.12, "v": 0.32, "t": "3AIB"}, {"p": 4.36, "v": -0.21, "t": "Hip"}, {"p": 3.67, "v": -0.14, "t": "Gly"}, {"p": 3.32, "v": -0.23, "t": "Cho"}, {"p": 2.73, "v": -0.14, "t": "Cit"}, {"p": 2.4, "v": -0.22, "t": "Pyr"}, {"p": 1.88, "v": -0.13, "t": "AcAc"}, {"p": 1.12, "v": -0.19, "t": "3HIV"}]},
           "mark": {"type": "text", "fontSize": 11, "color": "#222"},
           "encoding": {"x": {"field": "p", "type": "quantitative"}, "y": {"field": "v", "type": "quantitative"}, "text": {"field": "t"}}}
        ]
      },
      {
        "width": 9, "height": 112,
        "view": {"stroke": null},
        "layer": [
          {"data": {"values": [{"y0": 0, "y1": 0.44, "c": 0}, {"y0": 0.44, "y1": 0.52, "c": 1}, {"y0": 0.52, "y1": 0.68, "c": 2}, {"y0": 0.68, "y1": 0.71, "c": 3}, {"y0": 0.71, "y1": 0.74, "c": 4}, {"y0": 0.74, "y1": 0.8, "c": 5}, {"y0": 0.8, "y1": 0.9, "c": 6.5}, {"y0": 0.9, "y1": 1, "c": 8}]},
           "mark": {"type": "rect"},
           "encoding": {"x": {"datum": 0, "type": "quantitative", "scale": {"domain": [0, 1], "nice": false}, "axis": null}, "x2": {"datum": 1}, "y": {"field": "y0", "type": "quantitative", "scale": {"domain": [0, 1], "nice": false}, "axis": null}, "y2": {"field": "y1"},
             "color": {"field": "c", "type": "quantitative", "scale": {"domain": [0, 1, 2, 3, 5, 8], "range": ["#1763e8", "#20e8e8", "#ffff00", "#ff8c00", "#d42000", "#6e0000"], "interpolate": "rgb"}, "legend": null}}},
          {"data": {"values": [{"x": 1, "y": 1.03, "t": "|r| and VIP"}, {"x": 1, "y": 0.95, "t": "|r| = 1.00 and VIP ≥ 1"}, {"x": 1, "y": 0.68, "t": "|r| = 0.66 and VIP ≥ 1"}, {"x": 1, "y": 0.54, "t": "|r| = 0.53 and VIP ≥ 1"}, {"x": 1, "y": 0.46, "t": "VIP > 1 and |r| < 0.53"}, {"x": 1, "y": 0.21, "t": "VIP < 1 and |r| < 0.53"}]},
           "mark": {"type": "text", "align": "left", "dx": 2, "fontSize": 7, "color": "#333"},
           "encoding": {"x": {"field": "x", "type": "quantitative", "scale": {"domain": [0, 1], "nice": false}}, "y": {"field": "y", "type": "quantitative", "scale": {"domain": [0, 1], "nice": false}}, "text": {"field": "t"}}}
        ]
      }
      ]
    }
    ]
  }
  ]
}
]
}
